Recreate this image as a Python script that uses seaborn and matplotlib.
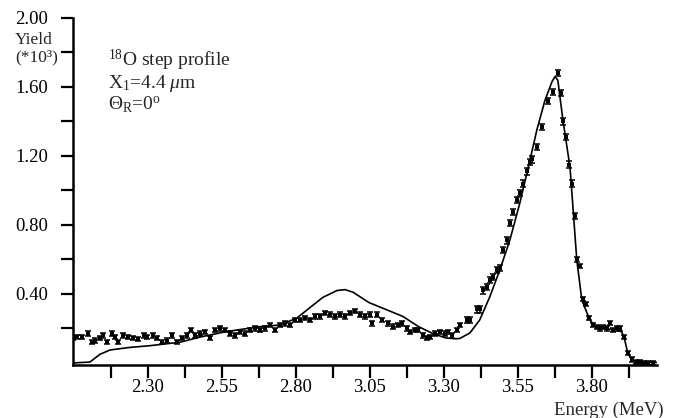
import numpy as np
import pandas as pd
import seaborn as sns
import matplotlib.pyplot as plt

# Measured yield (units of 10^3 counts) versus detected energy (MeV)
bg_energy = [2.047, 2.060, 2.077, 2.097, 2.111, 2.121, 2.138, 2.148, 2.161, 2.178,
             2.188, 2.199, 2.216, 2.232, 2.249, 2.266, 2.286, 2.297, 2.317, 2.330,
             2.347, 2.364, 2.381, 2.398, 2.415, 2.432, 2.445, 2.459, 2.476, 2.493,
             2.509, 2.526, 2.543, 2.560, 2.577, 2.594, 2.611, 2.628, 2.645, 2.661,
             2.678, 2.695, 2.712, 2.729, 2.746, 2.763, 2.780, 2.797, 2.813, 2.830,
             2.847, 2.864, 2.881, 2.898, 2.915, 2.932, 2.949, 2.965, 2.982, 2.999,
             3.016, 3.033, 3.050, 3.057, 3.074, 3.090, 3.111, 3.128, 3.145, 3.158,
             3.175, 3.185, 3.202, 3.212, 3.229, 3.242, 3.253, 3.269, 3.286, 3.303,
             3.313, 3.327, 3.344, 3.354]
bg_yield = [0.145, 0.150, 0.150, 0.170, 0.120, 0.130, 0.145, 0.160, 0.120, 0.170,
            0.150, 0.120, 0.160, 0.150, 0.145, 0.140, 0.160, 0.150, 0.160, 0.145,
            0.120, 0.130, 0.160, 0.120, 0.145, 0.160, 0.190, 0.160, 0.170, 0.180,
            0.145, 0.190, 0.200, 0.190, 0.170, 0.160, 0.180, 0.170, 0.190, 0.200,
            0.190, 0.200, 0.220, 0.190, 0.220, 0.230, 0.220, 0.250, 0.250, 0.260,
            0.250, 0.270, 0.270, 0.290, 0.280, 0.270, 0.280, 0.270, 0.290, 0.300,
            0.280, 0.270, 0.280, 0.230, 0.280, 0.250, 0.230, 0.210, 0.220, 0.230,
            0.200, 0.180, 0.190, 0.190, 0.160, 0.145, 0.150, 0.170, 0.180, 0.170,
            0.180, 0.160, 0.190, 0.220]
bg_err = 0.013

peak_energy = [3.378, 3.388, 3.411, 3.421, 3.432, 3.445, 3.455, 3.465, 3.479, 3.489,
               3.499, 3.513, 3.523, 3.533, 3.547, 3.557, 3.567, 3.580, 3.590, 3.597,
               3.614, 3.631, 3.651, 3.668, 3.685, 3.695, 3.702, 3.712, 3.722, 3.733,
               3.742]
peak_yield = [0.250, 0.250, 0.310, 0.310, 0.420, 0.440, 0.480, 0.500, 0.540, 0.550,
              0.655, 0.710, 0.810, 0.875, 0.945, 0.985, 1.040, 1.110, 1.165, 1.180,
              1.250, 1.370, 1.520, 1.570, 1.680, 1.565, 1.400, 1.310, 1.150, 1.040,
              0.850]
peak_err = 0.018

tail_energy = [3.749, 3.759, 3.769, 3.780, 3.790, 3.803, 3.817, 3.827, 3.837, 3.851,
               3.861, 3.871, 3.884, 3.894, 3.908, 3.921, 3.935, 3.948, 3.962, 3.976,
               3.990, 4.005]
tail_yield = [0.600, 0.560, 0.370, 0.340, 0.260, 0.220, 0.210, 0.200, 0.210, 0.200,
              0.230, 0.190, 0.200, 0.200, 0.150, 0.060, 0.020, 0.005, 0.003, 0.002,
              0.002, 0.002]
tail_err = 0.012

# Simulated step-profile spectrum
fit_energy = [2.047, 2.104, 2.138, 2.172, 2.239, 2.307, 2.408, 2.476, 2.560, 2.637,
              2.678, 2.746, 2.803, 2.847, 2.891, 2.939, 2.966, 2.993, 3.047, 3.104,
              3.161, 3.215, 3.263, 3.306, 3.340, 3.354, 3.388, 3.421, 3.455, 3.489,
              3.523, 3.557, 3.590, 3.614, 3.641, 3.665, 3.675, 3.685, 3.702, 3.726,
              3.736, 3.749, 3.766, 3.793, 3.817, 3.851, 3.884, 3.901, 3.911, 3.921,
              3.935, 3.952, 4.019]
fit_yield = [0.000, 0.005, 0.050, 0.075, 0.090, 0.100, 0.120, 0.150, 0.180, 0.200,
             0.210, 0.220, 0.260, 0.320, 0.380, 0.420, 0.425, 0.410, 0.350, 0.310,
             0.270, 0.210, 0.170, 0.145, 0.140, 0.142, 0.174, 0.249, 0.383, 0.539,
             0.713, 0.930, 1.170, 1.350, 1.520, 1.630, 1.660, 1.640, 1.410, 1.136,
             0.904, 0.597, 0.365, 0.249, 0.203, 0.197, 0.191, 0.180, 0.133, 0.058,
             0.017, 0.005, 0.003]

data = pd.DataFrame({
    "energy": bg_energy + peak_energy + tail_energy,
    "yield": bg_yield + peak_yield + tail_yield,
    "err": [bg_err] * len(bg_energy) + [peak_err] * len(peak_energy) + [tail_err] * len(tail_energy),
})
fit = pd.DataFrame({"energy": fit_energy, "yield": fit_yield})

x_major = [2.30, 2.55, 2.80, 3.05, 3.30, 3.55, 3.80]
x_minor = [2.175, 2.425, 2.675, 2.925, 3.175, 3.425, 3.675, 3.925]
y_major = [0.40, 0.80, 1.20, 1.60, 2.00]
y_minor = [0.20, 0.60, 1.00, 1.40, 1.80]

sns.set_theme(style="ticks")
plt.rcParams["font.family"] = ["Liberation Serif", "DejaVu Serif"]
plt.rcParams["mathtext.fontset"] = "custom"
plt.rcParams["mathtext.rm"] = "Liberation Serif"
plt.rcParams["mathtext.it"] = "Liberation Serif:italic"
plt.rcParams["mathtext.bf"] = "Liberation Serif:bold"

W, H = 679, 418
fig = plt.figure(figsize=(W / 100, H / 100), dpi=100)
ax = fig.add_axes([73 / W, 1 - 365 / H, (657 - 73) / W, (365 - 18) / H])

sns.lineplot(data=fit, x="energy", y="yield", color="black", linewidth=1.2,
             estimator=None, ax=ax)
ax.errorbar(data["energy"], data["yield"], yerr=data["err"], fmt="none",
            ecolor="black", elinewidth=1.2, capsize=2.0, capthick=1.1)
sns.scatterplot(data=data, x="energy", y="yield", color="black", marker="s",
                s=5, linewidth=0, ax=ax)

ax.set_xlim(2.047, 4.02)
ax.set_ylim(-0.012, 2.0)
ax.set_xticks(x_major)
ax.set_xticks(x_minor, minor=True)
ax.set_xticklabels([f"{v:.2f}" for v in x_major])
ax.set_yticks(y_major)
ax.set_yticks(y_minor, minor=True)
ax.set_yticklabels([f"{v:.2f}" for v in y_major])
ax.set_xlabel("")
ax.set_ylabel("")

for side in ("top", "right"):
    ax.spines[side].set_visible(False)
for side in ("left", "bottom"):
    ax.spines[side].set_linewidth(1.8)
    ax.spines[side].set_color("black")
ax.tick_params(which="both", direction="out", length=9, width=1.6, color="black",
               labelsize=13.5, labelcolor="black")
ax.tick_params(axis="x", which="both", pad=1)
ax.tick_params(axis="y", which="both", pad=9)

fs = 12.5
fig.text(15 / W, 1 - 44 / H, "Yield", ha="left", va="baseline", fontsize=fs)
fig.text(15 / W, 1 - 61 / H, "(*10³)", ha="left", va="baseline", fontsize=fs)
fig.text(609 / W, 1 - 410 / H, "Energy (MeV)", ha="center", va="center", fontsize=13.5)

fa = 14
fig.text(108 / W, 1 - 60 / H, r"$^{18}$O step profile", ha="left", va="center", fontsize=fa)
fig.text(108 / W, 1 - 84 / H, r"X$_{1}$=4.4 $\mu$m", ha="left", va="center", fontsize=fa)
fig.text(108 / W, 1 - 105 / H, r"$\Theta_\mathrm{R}$=0$^\mathrm{o}$", ha="left", va="center", fontsize=fa)

fig.savefig("out.png", dpi=100, facecolor="white")
